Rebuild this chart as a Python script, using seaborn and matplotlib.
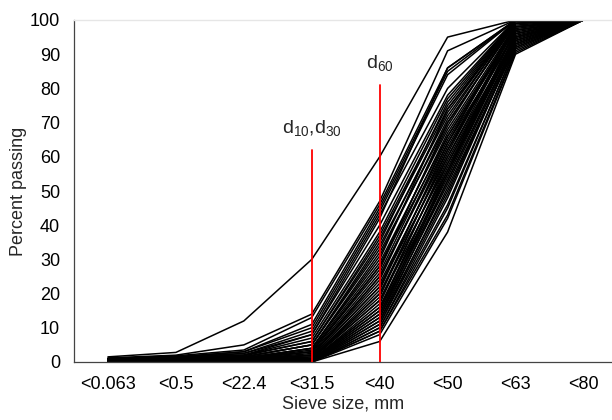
import numpy as np
import pandas as pd
import matplotlib
matplotlib.use("Agg")
import matplotlib.pyplot as plt
import seaborn as sns

sieves = ["<0.063", "<0.5", "<22.4", "<31.5", "<40", "<50", "<63", "<80"]

p_0063 = [1.5, 1.2, 1.0, 1.0, 0.9, 0.9, 0.8, 0.8, 0.8, 0.7,
          0.7, 0.7, 0.6, 0.6, 0.6, 0.6, 0.5, 0.5, 0.5, 0.5,
          0.5, 0.4, 0.4, 0.4, 0.4, 0.4, 0.3, 0.3, 0.3, 0.3,
          0.3, 0.3, 0.2, 0.2, 0.2, 0.2, 0.2, 0.2, 0.1, 0.1,
          0.1, 0.1, 0.1, 0.1, 0.1, 0, 0, 0, 0, 0,
          0, 0, 0]
p_05 = [2.8, 2.0, 1.8, 1.5, 1.5, 1.4, 1.3, 1.2, 1.2, 1.1,
        1.0, 1.0, 1.0, 0.9, 0.9, 0.8, 0.8, 0.8, 0.7, 0.7,
        0.7, 0.6, 0.6, 0.6, 0.5, 0.5, 0.5, 0.5, 0.4, 0.4,
        0.4, 0.4, 0.3, 0.3, 0.3, 0.3, 0.3, 0.2, 0.2, 0.2,
        0.2, 0.2, 0.1, 0.1, 0.1, 0.1, 0.1, 0.1, 0, 0,
        0, 0, 0]
p_224 = [12, 5, 3.5, 3, 3, 2.5, 2.5, 2, 2, 2,
         1.8, 1.5, 1.5, 1.5, 1.2, 1.2, 1, 1, 1, 1,
         0.8, 0.8, 0.8, 0.7, 0.6, 0.6, 0.5, 0.5, 0.5, 0.5,
         0.4, 0.4, 0.4, 0.3, 0.3, 0.3, 0.3, 0.2, 0.2, 0.2,
         0.2, 0.1, 0.1, 0.1, 0.1, 0.1, 0, 0, 0, 0,
         0, 0, 0]
p_315 = [30, 14, 13, 11, 10, 9, 8, 8, 7, 6,
         6, 5, 5, 5, 4, 4, 4, 3.5, 3, 3,
         3, 2.5, 2, 2, 2, 2, 1.5, 1.5, 1, 1,
         1, 1, 1, 0.8, 0.5, 0.5, 0.5, 0.5, 0.3, 0.3,
         0.3, 0.2, 0.2, 0.2, 0.1, 0.1, 0.1, 0, 0, 0,
         0, 0, 0]
p_40 = [60, 47, 46, 45, 44, 43, 42, 40, 38, 37,
        36, 35, 34, 33, 32, 31, 30, 29, 28, 28,
        27, 26, 25, 25, 24, 23, 22, 22, 21, 20,
        20, 19, 18, 18, 17, 16, 16, 15, 15, 14,
        14, 13, 13, 12, 12, 11, 11, 10, 10, 9,
        9, 8, 6]
p_50 = [95, 91, 86, 85, 84, 80, 86, 78, 77, 75,
        74, 76, 72, 73, 70, 71, 74, 68, 69, 66,
        70, 67, 65, 64, 66, 62, 63, 60, 64, 61,
        58, 62, 59, 56, 60, 57, 55, 58, 54, 53,
        56, 52, 55, 50, 53, 49, 51, 48, 46, 45,
        43, 42, 38]
p_63 = [100, 100, 100, 100, 100, 100, 100, 100, 100, 100,
        100, 100, 99.5, 100, 99, 100, 99, 98.5, 100, 98,
        99, 98, 97.5, 99, 97, 98, 96.5, 97, 96, 98,
        95.5, 96, 95, 97, 95, 94.5, 96, 94, 95, 93.5,
        94, 93, 95, 92.5, 94, 93, 92, 93, 91.5, 92,
        91, 90.5, 90]
p_80 = [100] * 53

columns = [p_0063, p_05, p_224, p_315, p_40, p_50, p_63, p_80]

rows = []
for j, col in enumerate(columns):
    for i, v in enumerate(col):
        rows.append({"sample": i, "pos": j, "value": v})
df = pd.DataFrame(rows)

sns.set_style("white")
plt.rcParams["font.family"] = ["Liberation Sans", "DejaVu Sans"]
plt.rcParams["mathtext.fontset"] = "custom"
plt.rcParams["mathtext.rm"] = "Liberation Sans"
plt.rcParams["mathtext.it"] = "Liberation Sans"
plt.rcParams["mathtext.default"] = "regular"

fig = plt.figure(figsize=(6.12, 4.2), dpi=100)
ax = fig.add_axes([74 / 612, 1 - 362 / 420, 1 - 74 / 612, (362 - 20) / 420])

sns.lineplot(data=df, x="pos", y="value", units="sample", estimator=None,
             color="black", linewidth=1.1, ax=ax, legend=False)

# reference lines
ax.plot([3, 3], [0, 62], color="#ff0000", linewidth=1.3, zorder=5)
ax.plot([4, 4], [0, 81], color="#ff0000", linewidth=1.3, zorder=5)
ax.text(3, 65.5, "d$_{10}$,d$_{30}$", ha="center", va="bottom", fontsize=14)
ax.text(4, 84.5, "d$_{60}$", ha="center", va="bottom", fontsize=14)

ax.set_xlim(-0.5, 7.42)
ax.set_ylim(0, 100)
ax.set_xticks(range(len(sieves)))
ax.set_xticklabels(sieves)
ax.set_yticks(range(0, 101, 10))
ax.tick_params(axis="both", direction="out", length=4, width=0.8, color="#555555",
               labelsize=13, colors="black")
ax.tick_params(axis="x", pad=6)
ax.tick_params(axis="y", pad=6)
ax.set_xlabel("Sieve size, mm", fontsize=13, labelpad=2)
ax.set_ylabel("Percent passing", fontsize=13, labelpad=2)

for s in ["left", "bottom"]:
    ax.spines[s].set_color("#444444")
    ax.spines[s].set_linewidth(0.9)
ax.spines["top"].set_color("#e6e6e6")
ax.spines["top"].set_linewidth(1.0)
ax.spines["right"].set_visible(False)

fig.savefig("out.png", dpi=100)
